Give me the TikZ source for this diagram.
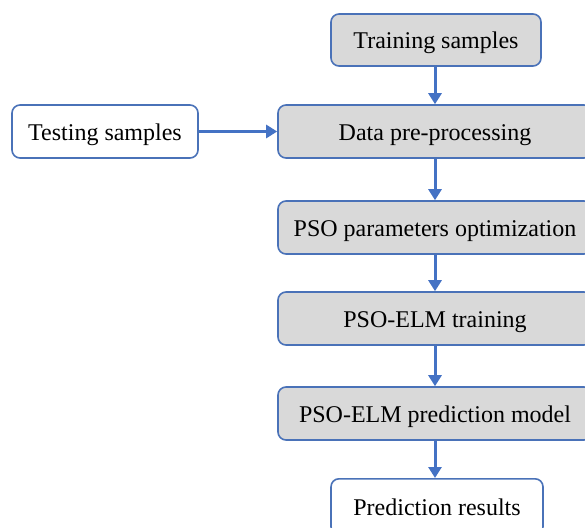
\documentclass[tikz,border=0pt]{standalone}
\usepackage{fontspec}
\setmainfont{Liberation Serif}
\usetikzlibrary{arrows.meta}
\definecolor{bord}{HTML}{4A72B8}
\definecolor{arr}{HTML}{4472C4}
\definecolor{boxfill}{HTML}{D9D9D9}
\begin{document}
\begin{tikzpicture}[x=1pt,y=-1pt,
  box/.style={draw=bord,line width=1.6pt,rounded corners=8pt,fill=boxfill,inner sep=0pt,
    text height=22pt,text depth=5pt,
    font=\fontsize{24}{26}\selectfont},
  wbox/.style={box,fill=white},
  flow/.style={draw=arr,line width=3pt,-{Triangle[length=11pt,width=13pt]}}]
\useasboundingbox (0,0) rectangle (585,527);
\clip (0,0) rectangle (585,527);
\node[box,minimum width=210pt,minimum height=52pt] (train) at (436,40) {Training samples};
\node[box,minimum width=314pt,minimum height=53pt] (pre) at (435,131.5) {Data pre-processing};
\node[wbox,minimum width=186pt,minimum height=53pt] (test) at (105,131.5) {Testing samples};
\node[box,minimum width=314pt,minimum height=53pt] (pso) at (435,227.5) {PSO parameters optimization};
\node[box,minimum width=314pt,minimum height=53pt] (elm) at (435,318.5) {PSO-ELM training};
\node[box,minimum width=314pt,minimum height=53pt] (model) at (435,413.5) {PSO-ELM prediction model};
\node[wbox,minimum width=212pt,minimum height=56pt,anchor=north] (res) at (437,478) {Prediction results};
\draw[flow] (train.south -| pre.center) -- (pre.north);
\draw[flow] (test.east) -- (pre.west);
\draw[flow] (pre.south) -- (pso.north);
\draw[flow] (pso.south) -- (elm.north);
\draw[flow] (elm.south) -- (model.north);
\draw[flow] (model.south) -- (model.south |- res.north);
\end{tikzpicture}
\end{document}
